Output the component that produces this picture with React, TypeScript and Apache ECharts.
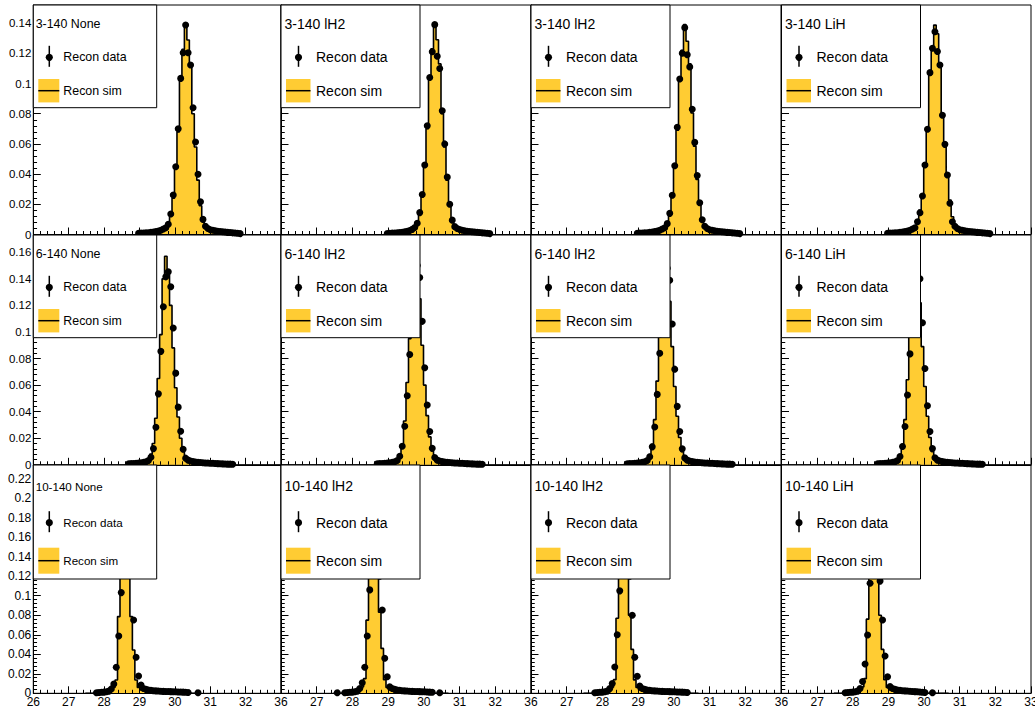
import React, { useEffect, useRef } from "react";
import * as echarts from "echarts";

const X_MIN = 26;
const X_MAX = 33;
const BIN_WIDTH = 0.07;
const SIM_COLOR = "#FFCC33";
const FONT = "'Liberation Sans', Arial, Helvetica, sans-serif";

const rowLabels = ["3-140", "6-140", "10-140"];
const colLabels = ["None", "lH2", "lH2", "LiH"];
const yMaxByRow = [0.152, 0.173, 0.234];

// ---- row 1 : 3-140 (first bin index 42) ----
const start_3 = 42;
const sim_3_None = [0.0007,0.0008,0.0009,0.0010,0.0011,0.0013,0.0015,0.0018,0.0022,0.0027,0.0034,0.0045,
  0.0074,0.0140,0.0240,0.0440,0.0680,0.1023,0.1226,0.1399,0.1288,0.1134,0.0800,0.0580,0.0360,0.0190,0.0100,
  0.0055,0.0040,0.0032,0.0027,0.0024,0.0021,0.0019,0.0017,0.0015,0.0013,0.0012,0.0010,0.0009,0.0007,0.0005];
const data_3_None = [0.0008,0.0009,0.0010,0.0011,0.0012,0.0014,0.0016,0.0019,0.0023,0.0028,0.0036,0.0045,
  0.0068,0.0136,0.0262,0.0449,0.0700,0.1034,0.1204,0.1387,0.1204,0.1123,0.0840,0.0613,0.0399,0.0217,0.0100,
  0.0055,0.0040,0.0032,0.0028,0.0025,0.0022,0.0020,0.0018,0.0016,0.0014,0.0013,0.0011,0.0010,0.0008,0.0006];
const sim_3_lH2a = [0.0007,0.0008,0.0009,0.0010,0.0012,0.0013,0.0015,0.0018,0.0022,0.0027,0.0034,0.0046,
  0.0078,0.0150,0.0250,0.0450,0.0700,0.1030,0.1230,0.1380,0.1290,0.1130,0.0800,0.0580,0.0360,0.0190,0.0100,
  0.0052,0.0040,0.0033,0.0028,0.0025,0.0022,0.0020,0.0018,0.0016,0.0015,0.0013,0.0011,0.0010,0.0008,0.0006];
const data_3_lH2a = [0.0007,0.0008,0.0009,0.0010,0.0012,0.0013,0.0015,0.0018,0.0022,0.0027,0.0034,0.0046,
  0.0075,0.0145,0.0265,0.0460,0.0720,0.1040,0.1210,0.1390,0.1180,0.1100,0.0820,0.0600,0.0380,0.0200,0.0095,
  0.0052,0.0040,0.0033,0.0028,0.0025,0.0022,0.0020,0.0018,0.0016,0.0015,0.0013,0.0011,0.0010,0.0008,0.0006];
const sim_3_lH2b = [0.0007,0.0008,0.0009,0.0010,0.0011,0.0013,0.0015,0.0018,0.0022,0.0027,0.0034,0.0045,
  0.0074,0.0142,0.0245,0.0445,0.0690,0.1025,0.1220,0.1390,0.1280,0.1130,0.0805,0.0585,0.0365,0.0195,0.0100,
  0.0055,0.0040,0.0032,0.0027,0.0024,0.0021,0.0019,0.0017,0.0015,0.0013,0.0012,0.0010,0.0009,0.0007,0.0005];
const data_3_lH2b = [0.0008,0.0009,0.0010,0.0011,0.0012,0.0014,0.0016,0.0019,0.0023,0.0028,0.0036,0.0045,
  0.0072,0.0140,0.0260,0.0455,0.0710,0.1030,0.1200,0.1370,0.1190,0.1110,0.0830,0.0610,0.0390,0.0210,0.0098,
  0.0055,0.0040,0.0032,0.0028,0.0025,0.0022,0.0020,0.0018,0.0016,0.0014,0.0013,0.0011,0.0010,0.0008,0.0006];
const sim_3_LiH = [0.0007,0.0008,0.0009,0.0010,0.0011,0.0013,0.0015,0.0018,0.0022,0.0027,0.0034,0.0045,
  0.0080,0.0162,0.0250,0.0449,0.0705,0.1056,0.1240,0.1387,0.1330,0.1134,0.0800,0.0604,0.0394,0.0228,0.0118,
  0.0060,0.0040,0.0032,0.0027,0.0024,0.0021,0.0019,0.0017,0.0015,0.0013,0.0012,0.0010,0.0009,0.0007,0.0005];
const data_3_LiH = [0.0008,0.0009,0.0010,0.0011,0.0012,0.0014,0.0016,0.0019,0.0023,0.0028,0.0036,0.0045,
  0.0085,0.0144,0.0255,0.0460,0.0697,0.1072,0.1233,0.1343,0.1212,0.1123,0.0790,0.0597,0.0394,0.0207,0.0085,
  0.0055,0.0040,0.0032,0.0028,0.0025,0.0022,0.0020,0.0018,0.0016,0.0014,0.0013,0.0011,0.0010,0.0008,0.0006];

// ---- row 2 : 6-140 (first bin index 38) ----
const start_6 = 38;
const sim_6_None = [0.0008,0.0009,0.0010,0.0011,0.0013,0.0015,0.0018,0.0023,0.0040,
  0.0080,0.0160,0.0350,0.0650,0.0980,0.1400,0.1570,0.1445,0.1200,0.0880,0.0580,0.0360,0.0200,0.0100,0.0060,
  0.0035,0.0028,0.0024,0.0021,0.0019,0.0017,0.0015,0.0014,0.0013,0.0012,0.0011,0.0010,0.0009,0.0008,0.0007,0.0006,0.0005,0.0005,0.0004];
const data_6_None = [0.0008,0.0009,0.0010,0.0011,0.0013,0.0015,0.0018,0.0023,0.0032,
  0.0057,0.0122,0.0283,0.0534,0.0854,0.1190,0.1415,0.1453,0.1340,0.1030,0.0690,0.0434,0.0253,0.0117,0.0050,
  0.0035,0.0028,0.0024,0.0021,0.0019,0.0017,0.0015,0.0014,0.0013,0.0012,0.0011,0.0010,0.0009,0.0008,0.0007,0.0006,0.0005,0.0005,0.0004];
const sim_6_lH2a = [0.0008,0.0009,0.0010,0.0011,0.0013,0.0015,0.0018,0.0023,0.0040,
  0.0075,0.0150,0.0330,0.0620,0.0950,0.1350,0.1560,0.1480,0.1250,0.0900,0.0600,0.0370,0.0210,0.0105,0.0060,
  0.0035,0.0028,0.0024,0.0021,0.0019,0.0017,0.0015,0.0014,0.0013,0.0012,0.0011,0.0010,0.0009,0.0008,0.0007,0.0006,0.0005,0.0005,0.0004];
const data_6_lH2a = [0.0008,0.0009,0.0010,0.0011,0.0013,0.0015,0.0018,0.0023,0.0032,
  0.0065,0.0140,0.0290,0.0520,0.0830,0.1180,0.1430,0.1500,0.1410,0.1080,0.0730,0.0450,0.0250,0.0125,0.0055,
  0.0035,0.0028,0.0024,0.0021,0.0019,0.0017,0.0015,0.0014,0.0013,0.0012,0.0011,0.0010,0.0009,0.0008,0.0007,0.0006,0.0005,0.0005,0.0004];
const sim_6_lH2b = [0.0008,0.0009,0.0010,0.0011,0.0013,0.0015,0.0018,0.0023,0.0040,
  0.0078,0.0155,0.0340,0.0630,0.0960,0.1370,0.1560,0.1470,0.1230,0.0890,0.0590,0.0365,0.0205,0.0100,0.0060,
  0.0035,0.0028,0.0024,0.0021,0.0019,0.0017,0.0015,0.0014,0.0013,0.0012,0.0011,0.0010,0.0009,0.0008,0.0007,0.0006,0.0005,0.0005,0.0004];
const data_6_lH2b = [0.0008,0.0009,0.0010,0.0011,0.0013,0.0015,0.0018,0.0023,0.0032,
  0.0060,0.0135,0.0285,0.0530,0.0840,0.1190,0.1420,0.1480,0.1390,0.1060,0.0720,0.0440,0.0250,0.0120,0.0052,
  0.0035,0.0028,0.0024,0.0021,0.0019,0.0017,0.0015,0.0014,0.0013,0.0012,0.0011,0.0010,0.0009,0.0008,0.0007,0.0006,0.0005,0.0005,0.0004];
const sim_6_LiH = [0.0008,0.0009,0.0010,0.0011,0.0013,0.0015,0.0018,0.0023,0.0040,
  0.0078,0.0155,0.0340,0.0640,0.0970,0.1380,0.1550,0.1460,0.1220,0.0890,0.0590,0.0365,0.0205,0.0100,0.0060,
  0.0035,0.0028,0.0024,0.0021,0.0019,0.0017,0.0015,0.0014,0.0013,0.0012,0.0011,0.0010,0.0009,0.0008,0.0007,0.0006,0.0005,0.0005,0.0004];
const data_6_LiH = [0.0008,0.0009,0.0010,0.0011,0.0013,0.0015,0.0018,0.0023,0.0032,
  0.0062,0.0138,0.0288,0.0525,0.0835,0.1185,0.1425,0.1490,0.1400,0.1070,0.0725,0.0445,0.0250,0.0122,0.0053,
  0.0035,0.0028,0.0024,0.0021,0.0019,0.0017,0.0015,0.0014,0.0013,0.0012,0.0011,0.0010,0.0009,0.0008,0.0007,0.0006,0.0005,0.0005,0.0004];

// ---- row 3 : 10-140 (first bin index 21) ----
const start_10 = 21;
const sim_10_None = [0,0,0,0,
  0.0005,0.0007,0.0009,0.0011,0.0014,0.0020,0.0040,
  0.0060,0.0136,0.0786,0.1400,0.2100,0.2200,0.1500,0.0786,0.0444,0.0136,0.0060,0.0035,
  0.0030,0.0027,0.0025,0.0023,0.0022,0.0021,0.0020,0.0019,0.0018,0.0017,0.0016,0.0015,0.0014,0.0013,0.0012,0.0011,0.0010,0.0009,0.0007,0,0,0,0];
const data_10_None = [null,null,null,null,
  0.0006,0.0008,0.0010,0.0012,0.0015,0.0022,0.0045,
  0.0095,0.0267,0.0588,0.1032,0.1400,0.1900,0.1650,0.1250,0.0752,0.0369,0.0177,0.0085,
  0.0050,0.0040,0.0034,0.0030,0.0027,0.0025,0.0023,0.0021,0.0020,0.0019,0.0018,0.0017,0.0016,0.0015,0.0014,0.0013,0.0012,0.0010,0.0008,null,null,null,0.0006];
const sim_10_lH2a = [0,0,0,0.0003,
  0.0005,0.0007,0.0009,0.0011,0.0014,0.0020,0.0040,
  0.0065,0.0150,0.0750,0.1380,0.2080,0.2180,0.1520,0.0830,0.0460,0.0140,0.0060,0.0035,
  0.0030,0.0027,0.0025,0.0023,0.0022,0.0021,0.0020,0.0019,0.0018,0.0017,0.0016,0.0015,0.0014,0.0013,0.0012,0.0010,0.0008,0,0,0,0,0,0];
const data_10_lH2a = [null,0.0005,null,null,
  0.0006,0.0008,0.0010,0.0012,0.0015,0.0022,0.0050,
  0.0109,0.0267,0.0588,0.1060,0.1420,0.1850,0.1650,0.1200,0.0854,0.0359,0.0170,0.0068,
  0.0050,0.0040,0.0034,0.0030,0.0027,0.0025,0.0023,0.0021,0.0020,0.0019,0.0018,0.0017,0.0016,0.0015,0.0014,0.0012,0.0010,null,null,0.0006,null,null,null];
const sim_10_lH2b = [0,0,0,0,
  0.0005,0.0007,0.0009,0.0011,0.0014,0.0020,0.0040,
  0.0062,0.0140,0.0770,0.1390,0.2090,0.2190,0.1510,0.0800,0.0450,0.0138,0.0060,0.0035,
  0.0030,0.0027,0.0025,0.0023,0.0022,0.0021,0.0020,0.0019,0.0018,0.0017,0.0016,0.0015,0.0014,0.0013,0.0012,0.0011,0.0010,0.0009,0.0007,0,0,0,0];
const data_10_lH2b = [null,null,null,null,
  0.0006,0.0008,0.0010,0.0012,0.0015,0.0022,0.0048,
  0.0100,0.0270,0.0600,0.1050,0.1450,0.1880,0.1650,0.1200,0.0800,0.0370,0.0175,0.0075,
  0.0050,0.0040,0.0034,0.0030,0.0027,0.0025,0.0023,0.0021,0.0020,0.0019,0.0018,0.0017,0.0016,0.0015,0.0014,0.0013,0.0012,0.0010,0.0008,null,null,null,null];
const sim_10_LiH = [0,0,0,0,
  0.0005,0.0007,0.0009,0.0011,0.0014,0.0020,0.0040,
  0.0065,0.0150,0.0760,0.1390,0.2080,0.2180,0.1500,0.0800,0.0450,0.0140,0.0060,0.0035,
  0.0030,0.0027,0.0025,0.0023,0.0021,0.0019,0.0017,0.0015,0.0013,0.0011,0.0009,0.0008,0.0007,0.0006,0,0,0,0,0,0,0,0,0];
const data_10_LiH = [null,null,null,null,
  0.0006,0.0008,0.0010,0.0012,0.0015,0.0022,0.0050,
  0.0120,0.0300,0.0598,0.1128,0.1450,0.1850,0.1600,0.1150,0.0752,0.0383,0.0170,0.0070,
  0.0050,0.0040,0.0034,0.0030,0.0027,0.0025,0.0023,0.0021,0.0019,0.0017,0.0015,0.0013,0.0011,0.0009,null,null,0.0006,null,null,null,null,null,null];

const panelStarts = [start_3, start_6, start_10];
const panelSims = [
  [sim_3_None, sim_3_lH2a, sim_3_lH2b, sim_3_LiH],
  [sim_6_None, sim_6_lH2a, sim_6_lH2b, sim_6_LiH],
  [sim_10_None, sim_10_lH2a, sim_10_lH2b, sim_10_LiH],
];
const panelData = [
  [data_3_None, data_3_lH2a, data_3_lH2b, data_3_LiH],
  [data_6_None, data_6_lH2a, data_6_lH2b, data_6_LiH],
  [data_10_None, data_10_lH2a, data_10_lH2b, data_10_LiH],
];

// layout (pixels)
const COL_LEFT = [33.3, 281, 531, 781.5];
const COL_WIDTH = [247.7, 250, 250, 249.5];
const ROW_TOP = [5, 235, 465];
const ROW_HEIGHT = [229.5, 229.8, 228.3];

function histOutline(start: number, vals: number[]) {
  const pts: number[][] = [[X_MIN + start * BIN_WIDTH, 0]];
  vals.forEach((v, i) => {
    const lo = X_MIN + (start + i) * BIN_WIDTH;
    pts.push([lo, v], [lo + BIN_WIDTH, v]);
  });
  pts.push([X_MIN + (start + vals.length) * BIN_WIDTH, 0]);
  return pts;
}

function binPoints(start: number, vals: (number | null)[]) {
  const out: number[][] = [];
  vals.forEach((v, i) => {
    if (v !== null && v > 0) out.push([X_MIN + (start + i + 0.5) * BIN_WIDTH, v]);
  });
  return out;
}

function legendElements(row: number, col: number, title: string) {
  const L = COL_LEFT[col];
  const T = ROW_TOP[row];
  const first = col === 0;
  const bottom = row === 2;
  const fs = first ? (bottom ? 11.6 : 12.4) : 14;
  const boxW = first ? 123.4 : 139;
  const boxH = bottom ? 114 : 102.7;
  const yHead = T + (bottom ? 21 : 18.5);
  const yData = T + (bottom ? 57.7 : 52.3);
  const ySim = T + (bottom ? 95.7 : 85.7);
  const rh = bottom ? 13 : 11.7;
  const mx = L + (first ? 16 : 17.5);
  const tx = L + (first ? 30 : 35);
  const rx0 = L + 5;
  const rx1 = L + (first ? 26 : 29.5);
  const textStyle = (text: string) => ({
    text,
    fontSize: fs,
    fontFamily: FONT,
    fill: "#000",
    verticalAlign: "middle",
    align: "left",
  });
  return [
    { type: "rect", z: 100, shape: { x: L, y: T, width: boxW, height: boxH }, style: { fill: "#fff", stroke: "#000", lineWidth: 1 } },
    { type: "text", z: 101, x: L + (first ? 2.4 : 3.5), y: yHead, style: textStyle(title) },
    { type: "line", z: 101, shape: { x1: mx, y1: yData - 11.5, x2: mx, y2: yData + 9.5 }, style: { stroke: "#000", lineWidth: 1.5 } },
    { type: "circle", z: 102, shape: { cx: mx, cy: yData, r: 3.6 }, style: { fill: "#000" } },
    { type: "text", z: 101, x: tx, y: yData, style: textStyle("Recon data") },
    { type: "rect", z: 101, shape: { x: rx0, y: ySim - rh, width: rx1 - rx0, height: 2 * rh }, style: { fill: SIM_COLOR } },
    { type: "line", z: 102, shape: { x1: rx0, y1: ySim, x2: rx1, y2: ySim }, style: { stroke: "#000", lineWidth: 1.5 } },
    { type: "text", z: 101, x: tx, y: ySim, style: textStyle("Recon sim") },
  ];
}

export default function App() {
  const ref = useRef<HTMLDivElement>(null);
  useEffect(() => {
    if (!ref.current) return;
    const chart = echarts.init(ref.current, undefined, { renderer: "svg" });
    const grids: any[] = [];
    const xAxes: any[] = [];
    const yAxes: any[] = [];
    const series: any[] = [];
    const graphics: any[] = [];
    let idx = 0;
    for (let r = 0; r < 3; r++) {
      for (let c = 0; c < 4; c++) {
        grids.push({
          left: COL_LEFT[c],
          top: ROW_TOP[r],
          width: COL_WIDTH[c],
          height: ROW_HEIGHT[r],
          show: true,
          borderColor: "#000",
          borderWidth: 1,
          backgroundColor: "transparent",
          containLabel: false,
          outerBoundsMode: "none",
        });
        const col = c;
        xAxes.push({
          type: "value",
          gridIndex: idx,
          min: X_MIN,
          max: X_MAX,
          interval: 1,
          z: 10,
          axisLine: { show: true, lineStyle: { color: "#000", width: 1 } },
          axisTick: { show: true, inside: true, length: 7, lineStyle: { color: "#000", width: 1 } },
          minorTick: { show: true, splitNumber: 5, length: 3.5, lineStyle: { color: "#000", width: 1 } },
          splitLine: { show: false },
          minorSplitLine: { show: false },
          axisLabel: {
            show: r === 2,
            color: "#000",
            fontSize: 12,
            fontFamily: FONT,
            margin: 3,
            showMinLabel: true,
            showMaxLabel: col === 3,
            formatter: (v: number) => (col > 0 && Math.abs(v - X_MIN) < 1e-6 ? "36" : String(Math.round(v))),
          },
        });
        yAxes.push({
          type: "value",
          gridIndex: idx,
          min: 0,
          max: yMaxByRow[r],
          interval: 0.02,
          z: 10,
          axisLine: { show: true, lineStyle: { color: "#000", width: 1 } },
          axisTick: { show: true, inside: true, length: 7.5, lineStyle: { color: "#000", width: 1 } },
          minorTick: { show: true, splitNumber: 5, length: 3.75, lineStyle: { color: "#000", width: 1 } },
          splitLine: { show: false },
          minorSplitLine: { show: false },
          axisLabel: {
            show: c === 0,
            color: "#000",
            fontSize: r === 2 ? 12 : 11.5,
            fontFamily: FONT,
            margin: 2,
            showMaxLabel: false,
            formatter: (v: number) => String(Math.round(v * 100) / 100),
          },
        });
        const start = panelStarts[r];
        series.push({
          name: "Recon sim",
          type: "line",
          xAxisIndex: idx,
          yAxisIndex: idx,
          data: histOutline(start, panelSims[r][c]),
          showSymbol: false,
          symbol: "none",
          silent: true,
          z: 2,
          lineStyle: { color: "#000", width: 1.6 },
          itemStyle: { color: SIM_COLOR },
          areaStyle: { color: SIM_COLOR, opacity: 1 },
        });
        series.push({
          name: "Recon data",
          type: "scatter",
          xAxisIndex: idx,
          yAxisIndex: idx,
          data: binPoints(start, panelData[r][c]),
          symbol: "circle",
          symbolSize: 7,
          z: 3,
          itemStyle: { color: "#000", opacity: 1 },
        });
        graphics.push(...legendElements(r, c, `${rowLabels[r]} ${colLabels[c]}`));
        idx++;
      }
    }
    chart.setOption({
      animation: false,
      backgroundColor: "#fff",
      textStyle: { fontFamily: FONT },
      grid: grids,
      xAxis: xAxes,
      yAxis: yAxes,
      series,
      graphic: { elements: graphics },
    });
    return () => chart.dispose();
  }, []);
  return (
    <div
      ref={ref}
      style={{ position: "absolute", left: 0, top: 0, width: 1035, height: 709, background: "#fff" }}
    />
  );
}
